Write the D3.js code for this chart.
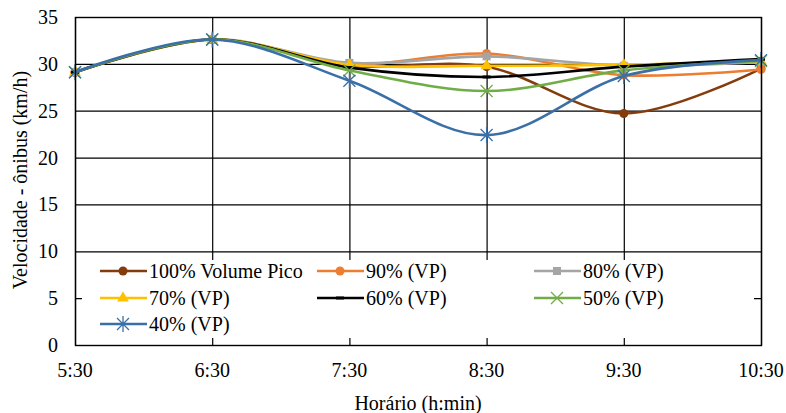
<!DOCTYPE html>
<html><head><meta charset="utf-8">
<script src="https://cdn.jsdelivr.net/npm/d3@7"></script>
<style>
body{margin:0;background:#fff}
#wrap{position:relative;width:786px;height:413px}
#wrap svg{position:absolute;left:0;top:0}
#wrap .lab{position:absolute;font-family:"Liberation Serif","Times New Roman",serif !important;font-size:20px;line-height:20px;white-space:nowrap;color:#000}
</style>
</head><body><div id="wrap"><svg id="c" width="786" height="413"></svg></div>
<script>
const categories = ["5:30","6:30","7:30","8:30","9:30","10:30"];
const yTicks = [0,5,10,15,20,25,30,35];
const seriesNames = ["100% Volume Pico","90% (VP)","80% (VP)","70% (VP)","60% (VP)","50% (VP)","40% (VP)"];
const v100 = [29.1, 32.6, 29.8, 29.7, 24.7, 29.5];
const v90  = [29.1, 32.6, 30.0, 31.1, 28.8, 29.4];
const v80  = [29.1, 32.6, 30.1, 30.8, 29.8, 30.2];
const v70  = [29.1, 32.6, 29.9, 29.8, 29.9, 30.3];
const v60  = [29.1, 32.6, 29.6, 28.6, 29.7, 30.5];
const v50  = [29.1, 32.6, 29.3, 27.1, 29.3, 30.3];
const v40  = [29.1, 32.6, 28.2, 22.4, 28.7, 30.4];
const colors = ["#843c0c","#ed7d31","#a5a5a5","#ffc000","#000000","#70ad47","#3b6fa8"];
const markers = ["circle","circle","square","triangle","dash","x","star"];
const values = [v100,v90,v80,v70,v60,v50,v40];
const FONT = '"Liberation Serif", "Times New Roman", serif';

const wrap = d3.select("#wrap");
const svg = d3.select("#c");
const L=75,R=761,T=17,B=345;
const x = d3.scalePoint().domain(categories).range([L,R]);
const y = d3.scaleLinear().domain([0,35]).range([B,T]);

function label(txt, px, py, anchor, rot){
  const tx = anchor==="end" ? "-100%" : anchor==="middle" ? "-50%" : "0";
  return wrap.append("div").attr("class","lab")
    .style("font-family",FONT,"important")
    .style("left",px+"px").style("top",py+"px")
    .style("transform",`translate(${tx},-50%)` + (rot ? ` rotate(${rot}deg)` : ""))
    .text(txt);
}

const g = svg.append("g");
g.selectAll(".hg").data(yTicks).join("line").attr("x1",L).attr("x2",R)
  .attr("y1",d=>y(d)+0.5).attr("y2",d=>y(d)+0.5).attr("stroke","#000").attr("stroke-width",1.2);
g.selectAll(".vg").data(categories).join("line").attr("x1",d=>x(d)+0.5).attr("x2",d=>x(d)+0.5)
  .attr("y1",T).attr("y2",B).attr("stroke","#000").attr("stroke-width",1.2);

yTicks.forEach(d=>label(d, 58, y(d), "end"));
categories.forEach(d=>label(d, x(d), 370, "middle"));
label("Horário (h:min)", 418, 403, "middle");
label("Velocidade  - ônibus (km/h)", 20, 180, "middle", -90);

function drawMarker(sel, type, color){
  if(type==="circle") sel.append("circle").attr("r",4.5).attr("fill",color);
  else if(type==="square") sel.append("rect").attr("x",-4).attr("y",-4).attr("width",8).attr("height",8).attr("fill",color);
  else if(type==="triangle") sel.append("path").attr("d",d3.symbol(d3.symbolTriangle,60)()).attr("fill",color);
  else if(type==="dash") sel.append("rect").attr("x",-4).attr("y",-1.5).attr("width",8).attr("height",3).attr("fill",color);
  else if(type==="x") sel.append("path").attr("d","M-6,-6L6,6M-6,6L6,-6").attr("stroke",color).attr("stroke-width",1.3);
  else if(type==="star") sel.append("path").attr("d","M-6,-6L6,6M-6,6L6,-6M0,-8L0,8").attr("stroke",color).attr("stroke-width",1.3);
}

const line = d3.line().x((d,i)=>x(categories[i])).y(d=>y(d)).curve(d3.curveCardinal.tension(0));
values.forEach((vals,k)=>{
  svg.append("path").datum(vals).attr("d",line).attr("fill","none")
    .attr("stroke",colors[k]).attr("stroke-width",2.6);
  vals.forEach((v,i)=>{
    const m = svg.append("g").attr("transform",`translate(${x(categories[i])},${y(v)})`);
    drawMarker(m, markers[k], colors[k]);
  });
});

svg.append("rect").attr("x",L+0.5).attr("y",T+0.5).attr("width",R-L).attr("height",B-T)
  .attr("fill","none").attr("stroke","#000").attr("stroke-width",1.4);

svg.append("rect").attr("x",82).attr("y",260).attr("width",672).attr("height",78).attr("fill","#fff");
const colX=[100,317,534], rowY=[271,298,324];
seriesNames.forEach((n,k)=>{
  const cx=colX[k%3], cy=rowY[Math.floor(k/3)];
  svg.append("line").attr("x1",cx).attr("x2",cx+47).attr("y1",cy).attr("y2",cy)
    .attr("stroke",colors[k]).attr("stroke-width",2.6);
  const m=svg.append("g").attr("transform",`translate(${cx+23},${cy})`);
  drawMarker(m, markers[k], colors[k]);
  label(n, cx+49, cy, "start");
});
</script></body></html>
